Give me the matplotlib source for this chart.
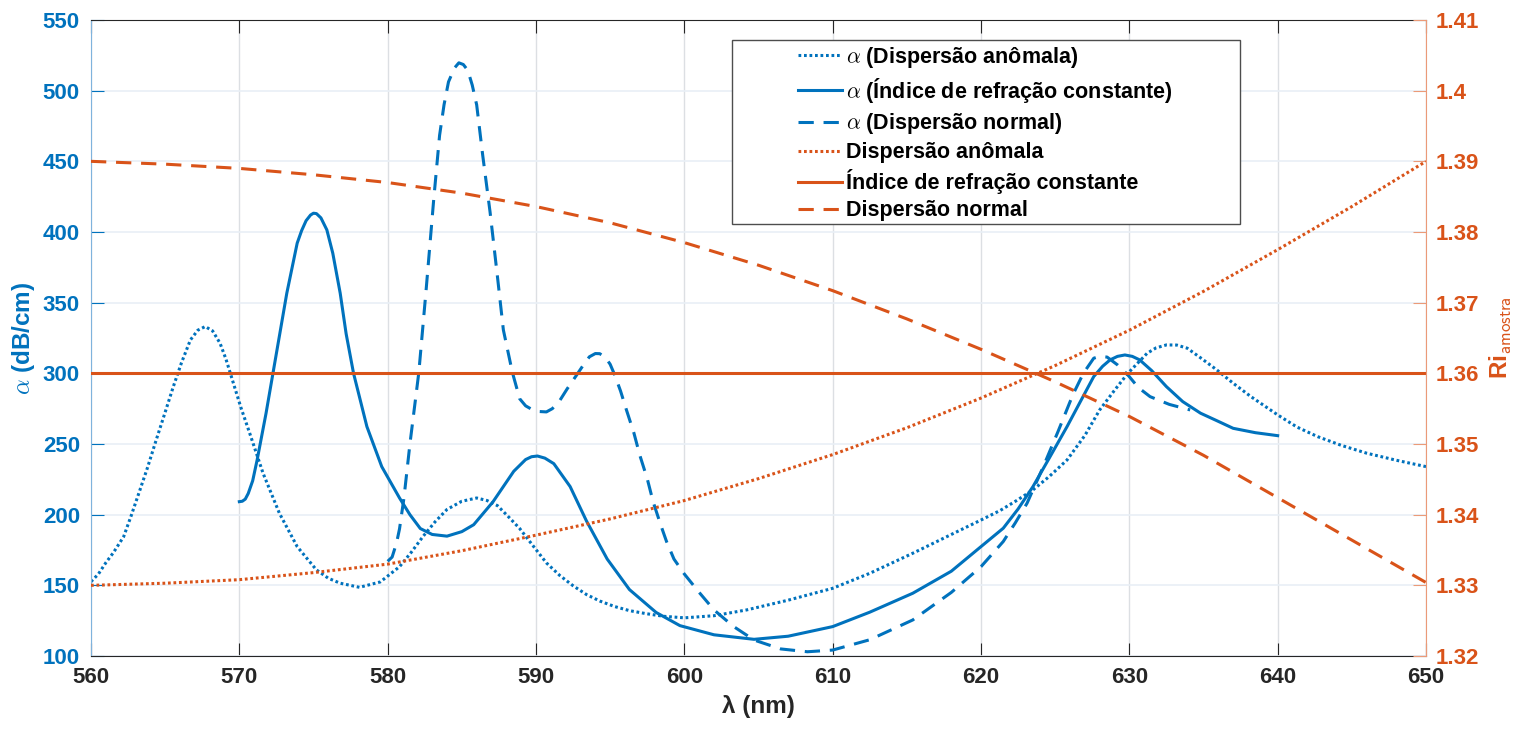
import matplotlib
matplotlib.use("Agg")
import matplotlib.pyplot as plt
from matplotlib.patches import Rectangle

# alpha (dB/cm) curves
x_anom = [560, 560.5, 561, 561.5, 562.2, 562.7, 563.3, 563.8, 564.4, 565.0, 565.55, 566.1, 566.7,
          567.2, 567.7, 568.2, 568.7, 569.1, 569.6, 570.1, 570.7, 571.6, 572.7, 573.9, 575.2,
          576.0, 576.8, 578.1, 579.5, 580.8, 581.6, 582.4, 583.2, 584.0, 585.0, 586.0, 586.7,
          587.4, 588.1, 588.9, 589.8, 590.7, 591.6, 592.5, 593.4, 594.3, 595.3, 596.3, 597.4,
          598.6, 600, 602, 604.2, 607, 610, 612.5, 615.4, 618, 620, 621.3, 622.4, 623.5, 624.6,
          625.8, 627.0, 628.0, 629.0, 629.9, 631.2, 631.8, 632.5, 633.2, 633.9, 634.8, 635.9,
          637.0, 638.2, 640, 641.3, 642.7, 644.3, 646.0, 648.0, 650]
a_anom = [152.6, 158, 166, 173, 184.4, 199, 217.5, 233, 253, 272.5, 290.6, 307.5, 323.6,
          330.5, 333.1, 330, 321.3, 310, 293, 276, 257.6, 229.3, 201, 177.4, 160.9,
          155, 151.5, 148.6, 152.4, 163.2, 173.5, 184.8, 195, 203.7, 209.5, 211.8, 210,
          206.4, 199, 190.2, 178, 165.9, 157, 149.7, 143.5, 138.9, 135, 132.1, 130,
          128.1, 127, 128.5, 132.6, 139.5, 147.9, 158.5, 172.7, 186, 196.2, 203, 210, 217.5, 227,
          238.7, 256, 274.1, 288, 300, 314.2, 318, 320.1, 320, 317.8, 311, 302.4,
          293, 283.5, 270.6, 262, 255.2, 249, 243.5, 238.5, 234]

x_const = [570.0, 570.2, 570.4, 570.6, 570.9, 571.2, 571.8, 572.5, 573.2, 573.9, 574.2, 574.5,
           574.8, 575.0, 575.2, 575.5, 575.9, 576.3, 576.8, 577.2, 577.7, 578.6, 579.6, 580.8,
           581.5, 582.2, 583.0, 584.0, 585.0, 585.8, 587.1, 588.5, 589.3, 589.7, 590.1, 590.6,
           591.2, 592.3, 593.4, 594.8, 596.3, 598.1, 599.7, 602, 604.7, 607, 610, 612.5, 615.4,
           618, 620, 621.5, 622.5, 623.5, 624.6, 625.8, 626.8, 627.6, 628.2, 628.7, 629.2, 629.7,
           630.2, 630.7, 631.5, 632.5, 633.6, 634.8, 636.0, 637.0, 638.5, 640]
a_const = [209.2, 209.5, 211, 215, 224, 238.7, 271.7, 314.2, 356.7, 392.1, 401, 408,
           412, 413.3, 413, 410, 401.5, 385, 356.7, 328, 300, 262.3, 234, 211.8,
           200, 190.2, 186, 184.8, 188, 192.9, 209.1, 230.7, 239, 241, 241.5, 240,
           236.1, 219.9, 195.6, 168.6, 147, 130.8, 121.5, 115, 111.8, 114, 120.8, 131, 144.4,
           160, 177.4, 190.4, 204, 219.8, 240, 262.3, 282, 297.7, 305, 309.5, 312, 313,
           312, 309.5, 302, 290.6, 280, 271.8, 266, 261.1, 258, 255.9]

x_norm = [580.0, 580.3, 580.6, 580.8, 581.1, 581.5, 582.1, 582.6, 583.1, 583.5, 583.8, 584.1,
          584.5, 584.8, 585.1, 585.4, 585.7, 586.0, 586.4, 586.9, 587.4, 587.8, 588.4, 588.9,
          589.3, 589.8, 590.2, 590.7, 591.1, 591.6, 592.1, 592.7, 593.2, 593.6, 594.0, 594.3,
          594.7, 595.0, 595.3, 595.7, 596.1, 596.6, 597.0, 597.5, 597.9, 598.4, 598.8, 599.3,
          600, 601, 602.0, 603.3, 604.7, 606.5, 608.3, 610, 612.5, 615.4, 618, 620, 621.5,
          622.3, 623.1, 624.2, 625.2, 626.2, 626.9, 627.6, 628.0, 628.5, 629.2, 629.9, 630.6,
          631.4, 632.7, 634.1]
a_norm = [167, 170, 180, 190, 212, 250, 300.6, 360, 422.5, 468.4, 490, 506.2,
          516, 519.7, 518.5, 514.4, 504, 490, 454.9, 414.4, 368.5, 330.7, 301, 282,
          277, 274, 273, 272.7, 275, 280.7, 289, 298.2, 306, 311.7, 314, 313.9,
          311, 306.4, 299, 287.5, 274, 257.8, 242, 225.4, 209, 193, 181, 168.6,
          158, 145, 132.6, 121, 111.3, 105, 103, 104.2, 111.5, 125.5, 145, 163.2, 181,
          194, 208, 234, 259, 285, 300, 310.7, 312, 311.5, 306, 298.9, 290,
          283.5, 278, 274.1]

# refractive index of the sample
x_ri = [560, 565, 570, 575, 580, 585, 590, 595, 600, 605, 610, 615, 620, 625, 630, 635, 640, 645, 650]
ri_anom = [1.3300, 1.3303, 1.3308, 1.3318, 1.3330, 1.3349, 1.3371, 1.3394, 1.3420, 1.3451, 1.3485,
           1.3523, 1.3565, 1.3611, 1.3661, 1.3716, 1.3775, 1.3836, 1.3900]
ri_const = [1.36] * len(x_ri)
ri_norm = [1.3900, 1.3896, 1.3890, 1.3881, 1.3870, 1.3855, 1.3836, 1.3813, 1.3785, 1.3753, 1.3717,
           1.3677, 1.3634, 1.3588, 1.3539, 1.3484, 1.3424, 1.3364, 1.3304]

x_ticks = list(range(560, 651, 10))
left_ticks = list(range(100, 551, 50))
right_ticks = [1.32, 1.33, 1.34, 1.35, 1.36, 1.37, 1.38, 1.39, 1.40, 1.41]
right_ticklabels = ['1.32', '1.33', '1.34', '1.35', '1.36', '1.37', '1.38', '1.39', '1.4', '1.41']

labels = [r'$\alpha$ (Dispersão anômala)', r'$\alpha$ (Índice de refração constante)',
          r'$\alpha$ (Dispersão normal)', 'Dispersão anômala',
          'Índice de refração constante', 'Dispersão normal']

blue = '#0072BD'
orange = '#D95319'

plt.rcParams['font.family'] = ['Liberation Sans', 'DejaVu Sans']
plt.rcParams['font.weight'] = 'bold'
plt.rcParams['axes.labelweight'] = 'bold'
plt.rcParams['mathtext.fontset'] = 'cm'

W, H = 1529, 730
fig = plt.figure(figsize=(W / 100, H / 100), dpi=100)
ax1 = fig.add_axes([91 / W, 1 - 656 / H, (1426 - 91) / W, (656 - 20) / H])
ax2 = ax1.twinx()

lw = 2.2
dot = (0.9, 0.9)
dash = (5, 3.2)
h1, = ax1.plot(x_anom, a_anom, color=blue, lw=lw, dashes=dot)
h2, = ax1.plot(x_const, a_const, '-', color=blue, lw=lw)
h3, = ax1.plot(x_norm, a_norm, color=blue, lw=lw, dashes=dash)
h4, = ax2.plot(x_ri, ri_anom, color=orange, lw=lw, dashes=dot)
h5, = ax2.plot(x_ri, ri_const, '-', color=orange, lw=lw)
h6, = ax2.plot(x_ri, ri_norm, color=orange, lw=lw, dashes=dash)

ax1.set_xlim(560, 650)
ax1.set_ylim(100, 550)
ax2.set_ylim(1.32, 1.41)
ax1.set_xticks(x_ticks)
ax1.set_yticks(left_ticks)
ax2.set_yticks(right_ticks)
ax2.set_yticklabels(right_ticklabels)

# grid
ax1.set_axisbelow(True)
ax1.xaxis.grid(True, color='#dcdfe3', lw=1)
ax1.yaxis.grid(True, color='#e9eff6', lw=1.2)

# spines and ticks
for s in ['top', 'bottom']:
    ax1.spines[s].set_color('#262626')
    ax2.spines[s].set_visible(False)
ax1.spines['left'].set_color('#7fb3dd')
ax1.spines['right'].set_visible(False)
ax2.spines['left'].set_visible(False)
ax2.spines['right'].set_color('#eb9a78')

ax1.tick_params(axis='x', direction='in', length=9.5, width=0.8, top=True, color='#262626',
                labelsize=16, labelcolor='#262626', pad=8)
ax1.tick_params(axis='y', direction='in', length=9.5, width=0.8, color=blue,
                labelsize=16, labelcolor=blue, pad=8)
ax2.tick_params(axis='y', direction='in', length=9.5, width=0.8, color='#eb9a78',
                labelsize=16, labelcolor=orange, pad=7)

ax1.set_xlabel('λ (nm)', fontsize=17.5, color='#262626', labelpad=5)
ax1.set_ylabel(r'$\alpha$ (dB/cm)', fontsize=17.5, color=blue, labelpad=4)
ax2.set_ylabel(r'Ri$_{\mathsf{amostra}}$', fontsize=17.5, color=orange, labelpad=6)

# legend
box = Rectangle((732 / W, 1 - 224 / H), (1240 - 732) / W, (224 - 40) / H,
                transform=fig.transFigure, facecolor='white', edgecolor='#4d4d4d',
                lw=1, zorder=4.9)
fig.add_artist(box)
leg = fig.legend([h1, h2, h3, h4, h5, h6], labels, loc='upper left',
                 bbox_to_anchor=(798 / W, 1 - 45 / H), bbox_transform=fig.transFigure,
                 frameon=False, borderpad=0, borderaxespad=0, fontsize=15.5,
                 handlelength=2.05, handletextpad=0.2, labelspacing=0.28)
leg.set_zorder(5)

fig.savefig('out.png', dpi=100)
